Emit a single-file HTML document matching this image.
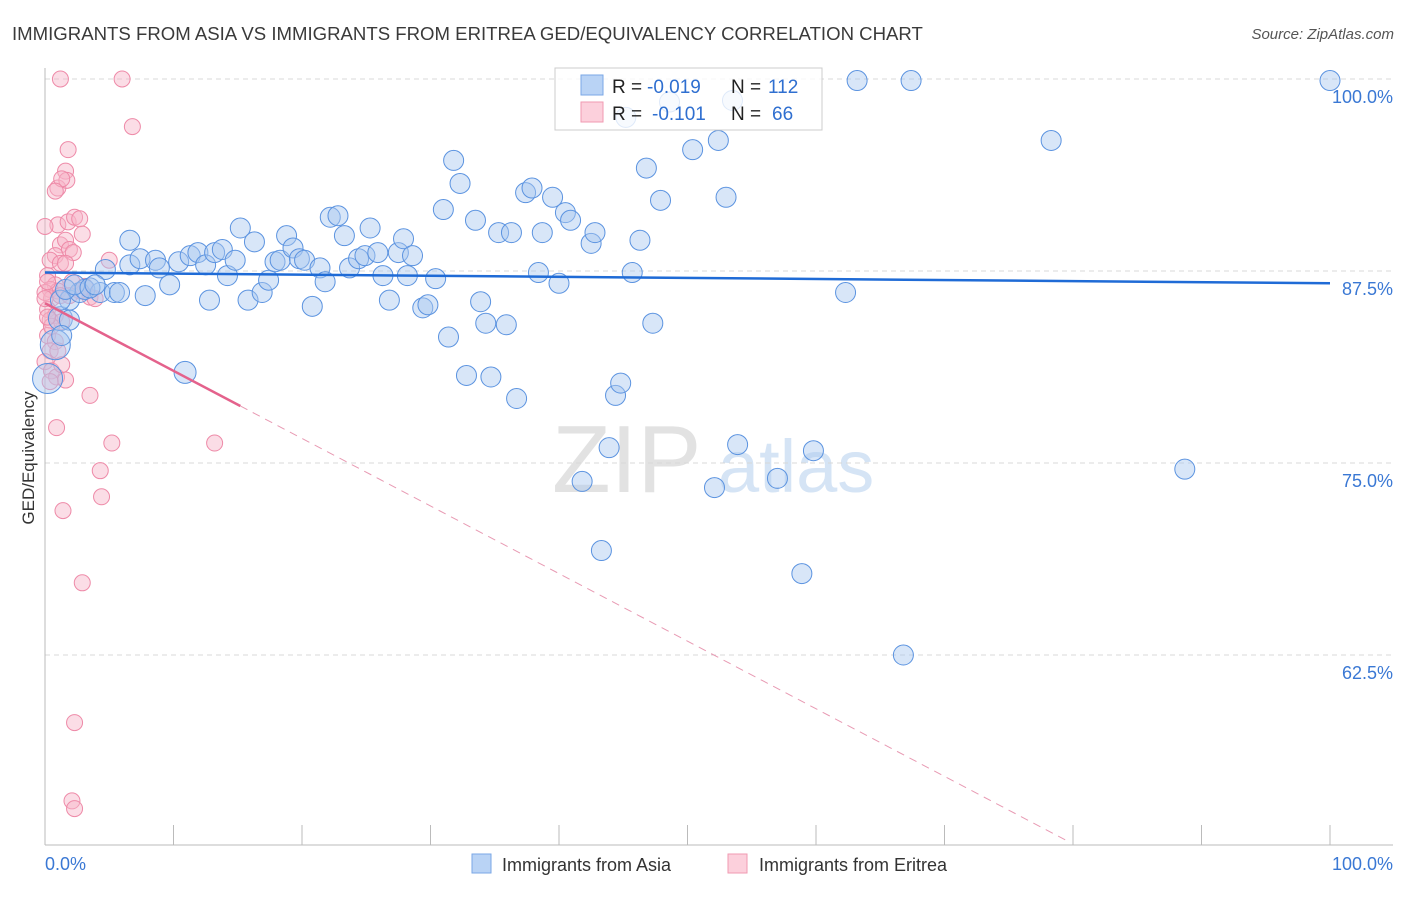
<!DOCTYPE html>
<html><head><meta charset="utf-8">
<style>
body{margin:0;background:#fff;font-family:"Liberation Sans",sans-serif;}
svg text{font-family:"Liberation Sans",sans-serif;}
</style></head><body>
<svg id="chart" width="1406" height="892" viewBox="0 0 1406 892" xmlns="http://www.w3.org/2000/svg">
<text x="12" y="40" font-size="18.6" fill="#3a3a3a">IMMIGRANTS FROM ASIA VS IMMIGRANTS FROM ERITREA GED/EQUIVALENCY CORRELATION CHART</text>
<text x="1394" y="39" font-size="15" fill="#555" font-style="italic" text-anchor="end">Source: ZipAtlas.com</text>
<g>
<text x="552" y="492" font-size="96" font-family="Liberation Serif, serif" fill="#e2e2e2">ZIP</text>
<text x="718" y="492" font-size="74" fill="#d5e4f5">atlas</text>
</g>
<g id="grid"></g>
<line x1="45" y1="68" x2="45" y2="845" stroke="#bbb" stroke-width="1"/>
<line x1="45" y1="845" x2="1393" y2="845" stroke="#bbb" stroke-width="1"/>
<g id="xticks"></g>
<g id="pts"></g>
<g id="trends"></g>
<text transform="translate(34,458) rotate(-90)" font-size="17" fill="#333" text-anchor="middle">GED/Equivalency</text>
<text x="45" y="870" font-size="18" fill="#3a78d4">0.0%</text>
<text x="1393" y="870" font-size="18" fill="#3a78d4" text-anchor="end">100.0%</text>
<g>
<rect x="555" y="68" width="267" height="62" fill="#fff" fill-opacity="0.8" stroke="#ccc"/>
<rect x="581" y="75" width="22" height="20" fill="#b9d3f5" stroke="#7aa7e6"/>
<rect x="581" y="102" width="22" height="20" fill="#fcd0dc" stroke="#f09ab2"/>
<text x="612" y="93" font-size="19" fill="#222">R =</text>
<text x="647" y="93" font-size="19" fill="#2f6fd0">-0.019</text>
<text x="731" y="93" font-size="19" fill="#222">N =</text>
<text x="768" y="93" font-size="19" fill="#2f6fd0">112</text>
<text x="612" y="120" font-size="19" fill="#222">R =</text>
<text x="652" y="120" font-size="19" fill="#2f6fd0">-0.101</text>
<text x="731" y="120" font-size="19" fill="#222">N =</text>
<text x="772" y="120" font-size="19" fill="#2f6fd0">66</text>
</g>
<g>
<rect x="472" y="854" width="19" height="19" fill="#b9d3f5" stroke="#7aa7e6"/>
<text x="502" y="871" font-size="18" fill="#333">Immigrants from Asia</text>
<rect x="728" y="854" width="19" height="19" fill="#fcd0dc" stroke="#f09ab2"/>
<text x="759" y="871" font-size="18" fill="#333">Immigrants from Eritrea</text>
</g>
</svg>
<script>
const yTicks=[100,87.5,75,62.5];
const yTickLabels=["100.0%","87.5%","75.0%","62.5%"];
const xTickVals=[10,20,30,40,50,60,70,80,90,100];
const asiaX=[0.2,0.8,1.2,1.9,2.7,3.1,4.3,4.7,5.4,6.6,5.8,7.8,6.6,7.4,8.6,8.9,9.7,10.4,10.9,11.3,11.9,12.5,12.8,13.2,13.8,14.2,14.8,15.2,15.8,16.3,16.9,17.4,17.9,18.3,18.8,19.3,19.8,20.2,20.8,21.4,21.8,22.2,22.8,23.3,23.7,24.4,24.9,25.3,25.9,26.3,26.8,27.5,27.9,28.2,28.6,29.4,29.8,30.4,31,31.4,31.8,32.3,32.8,33.5,33.9,34.3,34.7,35.3,35.9,36.3,36.7,37.4,37.9,38.4,38.7,39.5,40,40.5,40.9,41.8,42.5,42.8,43.3,43.9,44.4,44.8,45.2,45.7,46.3,46.8,47.3,47.9,48.6,50.4,52.1,52.4,53,53.5,53.9,57,58.9,59.8,62.3,63.2,66.8,67.4,78.3,88.7,100,1.2,1.6,2.3,3.5,3.9,1.9,1.3];
const asiaY=[80.5,82.7,84.4,85.6,86.1,86.3,86.1,87.6,86.1,89.5,86.1,85.9,87.9,88.3,88.2,87.7,86.6,88.1,80.9,88.5,88.7,87.9,85.6,88.7,88.9,87.2,88.2,90.3,85.6,89.4,86.1,86.9,88.1,88.2,89.8,89,88.3,88.2,85.2,87.7,86.8,91,91.1,89.8,87.7,88.3,88.5,90.3,88.7,87.2,85.6,88.7,89.6,87.2,88.5,85.1,85.3,87,91.5,83.2,94.7,93.2,80.7,90.8,85.5,84.1,80.6,90,84,90,79.2,92.6,92.9,87.4,90,92.3,86.7,91.3,90.8,73.8,89.3,90,69.3,76,79.4,80.2,97.5,87.4,89.5,94.2,84.1,92.1,98.5,95.4,73.4,96,92.3,98.6,76.2,74,67.8,75.8,86.1,99.9,62.5,99.9,96,74.6,99.9,85.6,86.3,86.6,86.4,86.6,84.3,83.3];
const asiaR=[15,15,12,10,10,10,10,10,10,10,10,10,10,10,10,10,10,10,11,10,10,10,10,10,10,10,10,10,10,10,10,10,10,10,10,10,10,10,10,10,10,10,10,10,10,10,10,10,10,10,10,10,10,10,10,10,10,10,10,10,10,10,10,10,10,10,10,10,10,10,10,10,10,10,10,10,10,10,10,10,10,10,10,10,10,10,10,10,10,10,10,10,10,10,10,10,10,10,10,10,10,10,10,10,10,10,10,10,10,10,10,10,10,10,10,10];
const eritX=[1.2,6,6.8,1.8,1.6,1,1.7,1.3,1,1.8,2.3,2.7,2.9,1.2,1.6,1.9,2.2,0.8,0.4,1.2,0.2,0.8,0.4,1,0.5,0.2,0.8,0.4,1.3,0.2,0.8,0.4,0,0.5,0.9,1.6,3.5,5,5.2,0.9,4.3,4.4,1.4,2.9,2.3,2.1,2.3,13.2,3.5,3.9,3.1,2.1,2.7,0,0.2,0.5,1.2,1.6,0,0.2,1,0.4,1.3,1.9,0,0.8];
const eritY=[100,100,96.9,95.4,94,92.9,93.4,93.5,90.5,90.7,91,90.9,89.9,89.2,89.5,88.9,88.7,88.5,88.2,88,87.2,86.6,86.3,86.2,85.7,85,84.6,84.3,84.2,83.3,82.9,82.3,81.6,81,80.6,80.4,79.4,88.2,76.3,77.3,74.5,72.8,71.9,67.2,58.1,53,52.5,76.3,85.8,85.7,86.5,86.8,86.2,86.1,86.8,83.9,85.9,88,85.7,84.5,82.3,80.3,81.4,85.9,90.4,92.7];
const asiaTrend=[87.4,86.7];
const eritTrend=[85.4,-0.44];
const W0=45,W1=1330,Y0=79,PX=192/12.5;
const xs=v=>W0+(v/100)*(W1-W0);
const ys=v=>Y0+(100-v)*PX;
const NS="http://www.w3.org/2000/svg";
function mk(tag,attrs,parent){const e=document.createElementNS(NS,tag);for(const k in attrs)e.setAttribute(k,attrs[k]);parent.appendChild(e);return e;}
const grid=document.getElementById('grid');
yTicks.forEach((t,i)=>{
 const l=mk('line',{x1:45,x2:1393,y1:ys(t),y2:ys(t),stroke:'#d8d8d8','stroke-dasharray':'5,4'},grid);
 
 
 const tx=mk('text',{x:1393,y:ys(t)+24,'font-size':18,fill:'#3a78d4','text-anchor':'end'},grid);
 tx.textContent=yTickLabels[i];
 
 
});
const xt=document.getElementById('xticks');
xTickVals.forEach(v=>{
 const l=mk('line',{x1:xs(v),x2:xs(v),y1:825,y2:845,stroke:'#bbb'},xt);
 
 
});
const pts=document.getElementById('pts');
eritX.forEach((x,i)=>{
 const c=mk('circle',{cx:xs(x),cy:ys(eritY[i]),r:8,fill:'#f7b3c7','fill-opacity':0.45,stroke:'#ee8aa8','stroke-width':1},pts);
 
 
});
asiaX.forEach((x,i)=>{
 const c=mk('circle',{cx:xs(x),cy:ys(asiaY[i]),r:asiaR[i],fill:'#a9c8f0','fill-opacity':0.45,stroke:'#5b93e0','stroke-width':1},pts);
 
 
});
const tr=document.getElementById('trends');
let l1=mk('line',{x1:xs(0),y1:ys(asiaTrend[0]),x2:xs(100),y2:ys(asiaTrend[1]),stroke:'#1f6bd6','stroke-width':2.5},tr);


const eY=x=>eritTrend[0]+eritTrend[1]*x;
let l2=mk('line',{x1:xs(0),y1:ys(eY(0)),x2:xs(15.2),y2:ys(eY(15.2)),stroke:'#e4628c','stroke-width':2.5},tr);


let l3=mk('line',{x1:xs(15.2),y1:ys(eY(15.2)),x2:xs(79.4),y2:ys(eY(79.4)),stroke:'#e89ab3','stroke-width':1,'stroke-dasharray':'8,6'},tr);


</script>
</body></html>
